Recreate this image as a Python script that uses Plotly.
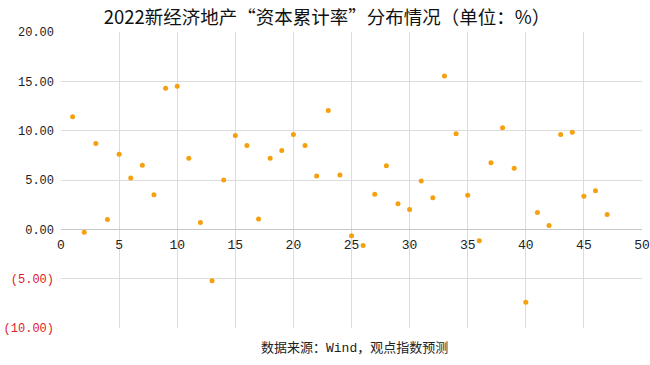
import plotly.graph_objects as go

x_index = list(range(1, 48))
capital_rate = [11.4, -0.3, 8.7, 1.0, 7.6, 5.2, 6.5, 3.5, 14.3, 14.5,
                7.2, 0.7, -5.2, 5.0, 9.5, 8.5, 1.05, 7.2, 8.0, 9.6,
                8.5, 5.4, 12.05, 5.5, -0.65, -1.65, 3.55, 6.45, 2.6, 2.0,
                4.9, 3.2, 15.55, 9.7, 3.45, -1.15, 6.75, 10.3, 6.2, -7.4,
                1.7, 0.4, 9.6, 9.85, 3.35, 3.9, 1.5]

y_tick_vals = [20, 15, 10, 5, 0, -5, -10]
y_tick_labels = ["20.00", "15.00", "10.00", "5.00", "0.00", "(5.00)", "(10.00)"]
x_tick_vals = [0, 5, 10, 15, 20, 25, 30, 35, 40, 45, 50]

title_text = "2022新经济地产“资本累计率”分布情况（单位：%）"
source_text = "数据来源：Wind，观点指数预测"

FONT = "Noto Sans CJK SC"
MONO = "Liberation Mono, Noto Sans CJK SC"
ytext = [(f'<span style="color:#e0202a">{t}</span>' if v < 0 else t)
         for v, t in zip(y_tick_vals, y_tick_labels)]

fig = go.Figure()
fig.add_trace(go.Scatter(
    x=x_index, y=capital_rate, mode="markers",
    marker=dict(color="#f5a00f", size=5, line=dict(width=0)),
    showlegend=False,
))

fig.update_layout(
    width=650, height=365,
    margin=dict(l=61, r=8, t=32, b=37, autoexpand=False),
    paper_bgcolor="white", plot_bgcolor="white",
    font=dict(family=FONT, color="#222222", size=12),
    title=dict(text=title_text, x=0.503, xanchor="center", y=0.952, yanchor="middle",
               font=dict(family=FONT, size=18.5, color="#111111")),
    xaxis=dict(range=[0, 50], tickvals=x_tick_vals, showgrid=True,
               gridcolor="#dcdcdc", gridwidth=1, zeroline=False,
               showline=False, anchor="free", position=1/3, automargin=False,
               ticks="", ticklabelstandoff=6,
               tickfont=dict(family=MONO, size=13, color="#222222")),
    yaxis=dict(range=[-10, 20], tickvals=y_tick_vals, ticktext=ytext,
               showgrid=True, gridcolor="#dcdcdc", gridwidth=1, automargin=False,
               zeroline=True, zerolinecolor="#c8c8c8", zerolinewidth=1,
               ticks="", ticklabelstandoff=6,
               tickfont=dict(family=MONO, size=12, color="#222222")),
    annotations=[dict(text=source_text, xref="paper", yref="paper",
                      x=0.505, y=-0.068, xanchor="center", yanchor="middle",
                      showarrow=False, font=dict(family=MONO, size=13, color="#222222"))],
)

fig.write_html("out.html", config={"displayModeBar": False},
               post_script="document.body.style.margin='0';")
